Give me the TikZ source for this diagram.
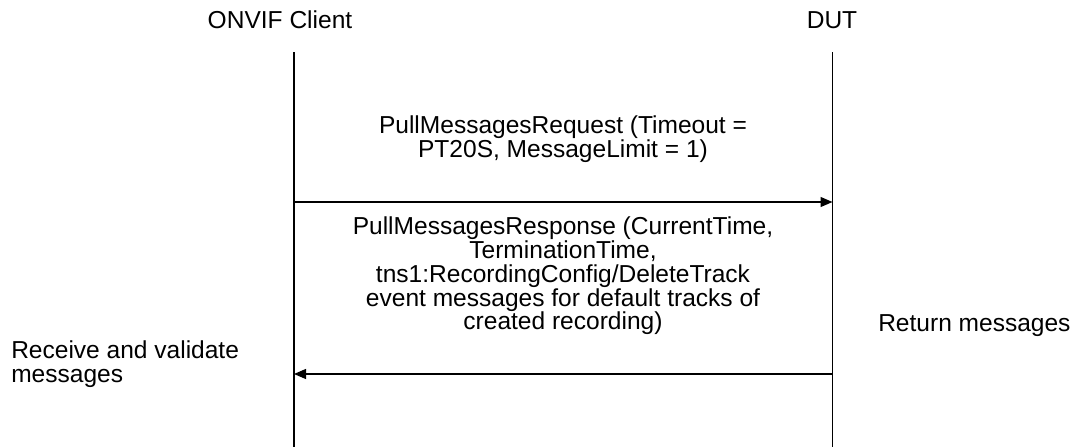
\documentclass[tikz,border=0pt]{standalone}
\usepackage{fontspec}
\setmainfont{Liberation Sans}
\usetikzlibrary{arrows.meta}
\begin{document}
\begin{tikzpicture}[x=0.75pt,y=-0.75pt,
  lbl/.style={font=\fontsize{18.4}{17.8}\selectfont, inner sep=0pt, align=center},
  lifeline/.style={line width=0.9pt},
  msg/.style={line width=0.9pt, -{Triangle[length=9pt,width=7.5pt]}}]
\useasboundingbox (0,0) rectangle (1076,447);
\node[lbl] (client) at (280,20) {ONVIF Client};
\node[lbl] (dut) at (832,20) {DUT};
\coordinate (ct) at (294,52);
\coordinate (cb) at (294,447);
\coordinate (dt) at (832.5,52);
\coordinate (db) at (832.5,447);
\draw[lifeline] (ct) -- (cb);
\draw[lifeline] (dt) -- (db);
\coordinate (a1s) at (294,202);
\coordinate (a1e) at (832.5,202);
\coordinate (a2s) at (832.5,374);
\coordinate (a2e) at (294,374);
\draw[msg] (a1s) -- (a1e);
\draw[msg] (a2s) -- (a2e);
\node[lbl] (req) at (563,139) {PullMessagesRequest (Timeout =\\PT20S, MessageLimit = 1)};
\node[lbl] (resp) at (563,276) {PullMessagesResponse (CurrentTime,\\TerminationTime,\\tns1:RecordingConfig/DeleteTrack\\event messages for default tracks of\\created recording)};
\node[lbl, anchor=west] (ret) at (878,326) {Return messages};
\node[lbl, anchor=west, align=left] (recv) at (11,364) {Receive and validate\\messages};
\end{tikzpicture}
\end{document}
